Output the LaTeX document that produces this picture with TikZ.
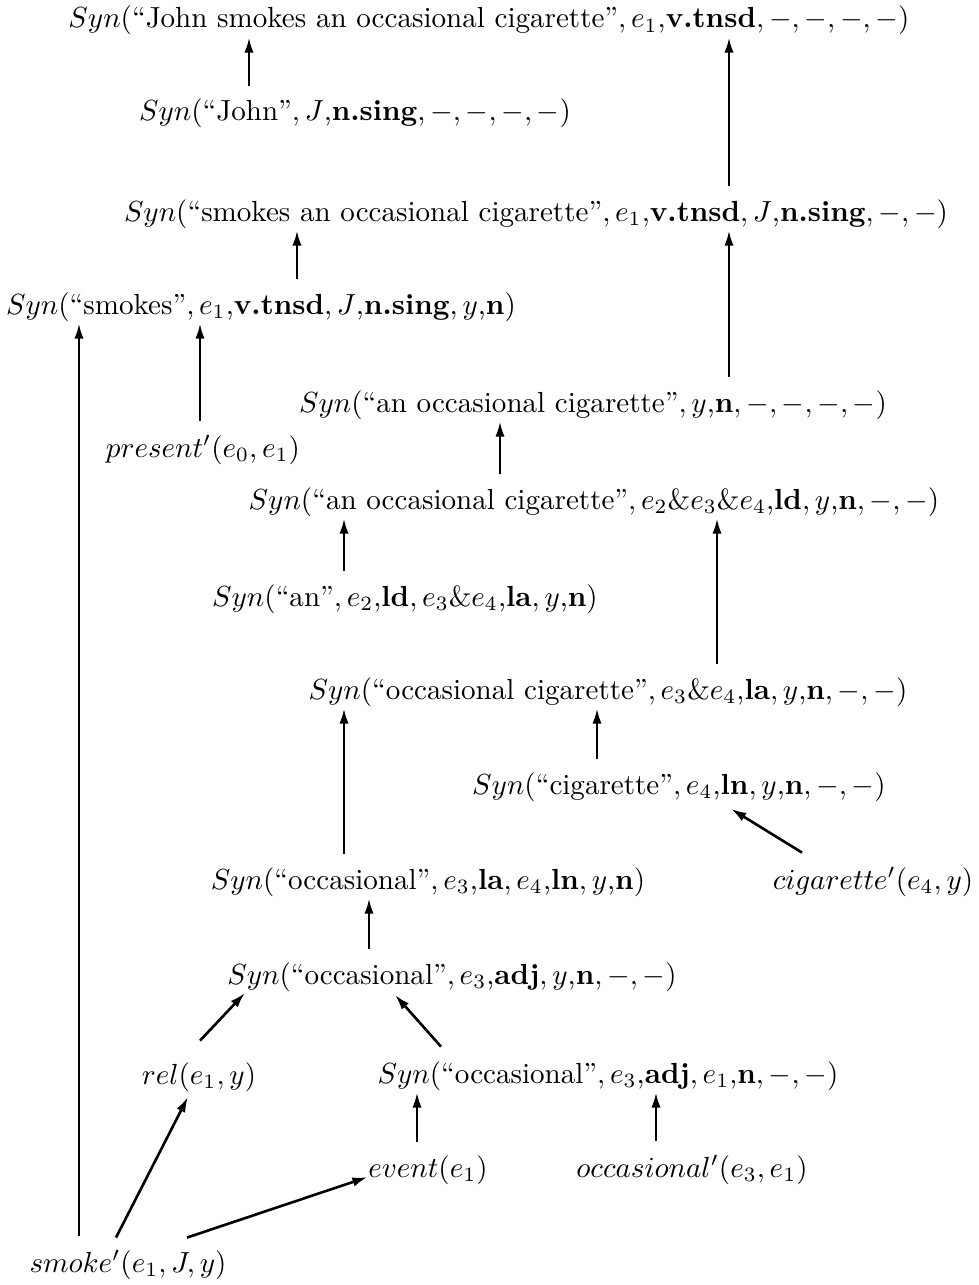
\documentclass[tikz,border=0pt]{standalone}
\usetikzlibrary{arrows.meta,calc}
\begin{document}
\begin{tikzpicture}[x=0.344pt,y=-0.344pt,
  lbl/.style={inner sep=0pt,anchor=base},
  arrd/.style={-{Latex[length=5.3pt,width=3.2pt]},line width=0.9pt},
  arr/.style={arrd,shorten <=4.5pt,shorten >=0.5pt}]
\useasboundingbox (0,0) rectangle (979,1285);
% derivation nodes
\node[lbl] (top)   at (489,28)  {$Syn($``John smokes an occasional cigarette''$, e_1$,\textbf{v.tnsd}$, -, -, -, -)$};
\node[lbl] (john)  at (355,121) {$Syn($``John''$, J$,\textbf{n.sing}$, -, -, -, -)$};
\node[lbl] (vp)    at (536,221) {$Syn($``smokes an occasional cigarette''$, e_1$,\textbf{v.tnsd}$, J$,\textbf{n.sing}$, -, -)$};
\node[lbl] (smk)   at (261,314) {$Syn($``smokes''$, e_1$,\textbf{v.tnsd}$, J$,\textbf{n.sing}$, y$,\textbf{n}$)$};
\node[lbl] (pres)  at (203,457) {$present'(e_0,e_1)$};
\node[lbl] (np)    at (593,412) {$Syn($``an occasional cigarette''$, y$,\textbf{n}$, -, -, -, -)$};
\node[lbl] (npe)   at (594,509) {$Syn($``an occasional cigarette''$, e_2$\&$e_3$\&$e_4$,\textbf{ld}$, y$,\textbf{n}$, -, -)$};
\node[lbl] (an)    at (405,606) {$Syn($``an''$, e_2$,\textbf{ld}$, e_3$\&$e_4$,\textbf{la}$, y$,\textbf{n}$)$};
\node[lbl] (occcig) at (608,699) {$Syn($``occasional cigarette''$, e_3$\&$e_4$,\textbf{la}$, y$,\textbf{n}$, -, -)$};
\node[lbl] (cig)   at (679,794) {$Syn($``cigarette''$, e_4$,\textbf{ln}$, y$,\textbf{n}$, -, -)$};
\node[lbl] (occla) at (428,889) {$Syn($``occasional''$, e_3$,\textbf{la}$, e_4$,\textbf{ln}$, y$,\textbf{n}$)$};
\node[lbl] (cigp)  at (873,889) {$cigarette'(e_4,y)$};
\node[lbl] (occy)  at (452,984) {$Syn($``occasional''$, e_3$,\textbf{adj}$, y$,\textbf{n}$, -, -)$};
\node[lbl] (rel)   at (199,1084) {$rel(e_1,y)$};
\node[lbl] (occe)  at (608,1083) {$Syn($``occasional''$, e_3$,\textbf{adj}$, e_1$,\textbf{n}$, -, -)$};
\node[lbl] (event) at (428,1177) {$event(e_1)$};
\node[lbl] (occp)  at (692,1177) {$occasional'(e_3,e_1)$};
\node[lbl] (smoke) at (128,1272) {$smoke'(e_1,J,y)$};
% vertical connectors
\draw[arr] (john.north -| 249,0)   -- (top.south -| 249,0);
\draw[arr] (vp.north -| 729,0)     -- (top.south -| 729,0);
\draw[arr] (smk.north -| 297,0)    -- (vp.south -| 297,0);
\draw[arr] (np.north -| 729,0)     -- (vp.south -| 729,0);
\draw[arr] (smoke.north -| 79,0)   -- (smk.south -| 79,0);
\draw[arr] (pres.north -| 200,0)   -- (smk.south -| 200,0);
\draw[arr] (npe.north -| 500,0)    -- (np.south -| 500,0);
\draw[arr] (an.north -| 344,0)     -- (npe.south -| 344,0);
\draw[arr] (occcig.north -| 717,0) -- (npe.south -| 717,0);
\draw[arr] (occla.north -| 344,0)  -- (occcig.south -| 344,0);
\draw[arr] (cig.north -| 597,0)    -- (occcig.south -| 597,0);
\draw[arr] (occy.north -| 369,0)   -- (occla.south -| 369,0);
\draw[arr] (event.north -| 417,0)  -- (occe.south -| 417,0);
\draw[arr] (occp.north -| 656,0)   -- (occe.south -| 656,0);
% slanted connectors
\draw[arrd] ($(cigp.north)+(-71,-14)$)  -- ($(cig.south)+(52,7)$);
\draw[arrd] ($(rel.north)+(1,-21)$)     -- ($(occy.south)+(-207,1)$);
\draw[arrd] ($(occe.north)+(-167,-14)$) -- ($(occy.south)+(-57,3)$);
\draw[arrd] ($(smoke.north)+(-12,-12)$) -- ($(rel.south)+(-11,5)$);
\draw[arrd] ($(smoke.north)+(59,-12)$)  -- (event.base west);
\end{tikzpicture}
\end{document}
